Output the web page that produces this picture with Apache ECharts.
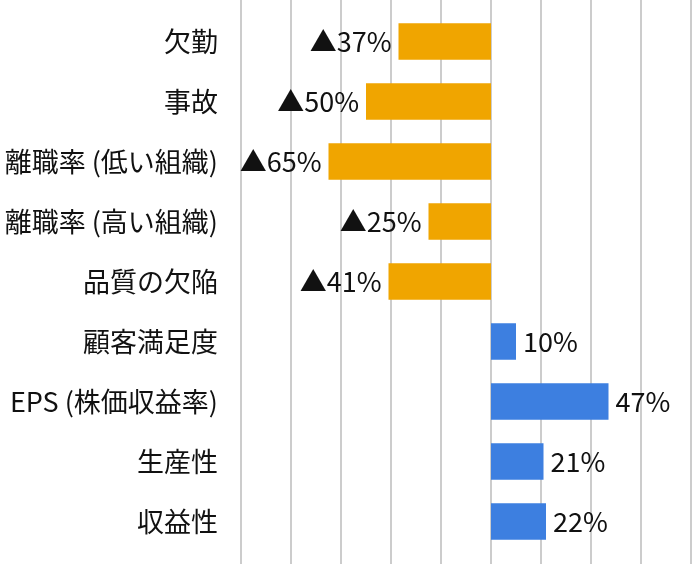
<!DOCTYPE html>
<html><head><meta charset="utf-8">
<script src="https://cdn.jsdelivr.net/npm/echarts@6/dist/echarts.min.js"></script>
<style>html,body{margin:0;padding:0;background:#fff}#c{width:692px;height:564px}</style>
</head><body><div id="c"></div>
<script>
const categories = ['欠勤','事故','離職率 (低い組織)','離職率 (高い組織)','品質の欠陥','顧客満足度','EPS (株価収益率)','生産性','収益性'];
const values = [-37,-50,-65,-25,-41,10,47,21,22];
const axisMin = -100, axisMax = 80, axisStep = 20;
const ORANGE = '#F0A500', BLUE = '#3D7FE0';
const FONT = '"Noto Sans CJK JP","Noto Sans",sans-serif';

const chart = echarts.init(document.getElementById('c'));
chart.setOption({
  animation:false,
  grid:[
    {left:241,right:1,top:11.5,bottom:12.5},
    {left:241,right:1,top:0,bottom:0}
  ],
  xAxis:[
    {gridIndex:0,type:'value',min:axisMin,max:axisMax,interval:axisStep,
     axisLabel:{show:false},axisLine:{show:false},axisTick:{show:false},splitLine:{show:false}},
    {gridIndex:1,type:'value',min:axisMin,max:axisMax,interval:axisStep,
     axisLabel:{show:false},axisLine:{show:false},axisTick:{show:false},
     splitLine:{show:true,lineStyle:{color:'#cccccc',width:2}}}
  ],
  yAxis:[
    {gridIndex:0,type:'category',data:categories,inverse:true,
     axisLine:{show:false},axisTick:{show:false},
     axisLabel:{color:'#111',fontSize:27,fontFamily:FONT,margin:23}},
    {gridIndex:1,type:'category',data:['_'],show:false}
  ],
  series:[
    {type:'bar',xAxisIndex:0,yAxisIndex:0,barWidth:'61%',z:3,
     data:values.map(v=>({value:v,itemStyle:{color:v<0?ORANGE:BLUE},
       label:{show:true,position:v<0?'left':'right',distance:7,
         color:'#111',fontSize:27,fontFamily:FONT,
         formatter:(v<0?'▲'+Math.abs(v):v)+'%'}})) }
  ]
});
</script></body></html>
